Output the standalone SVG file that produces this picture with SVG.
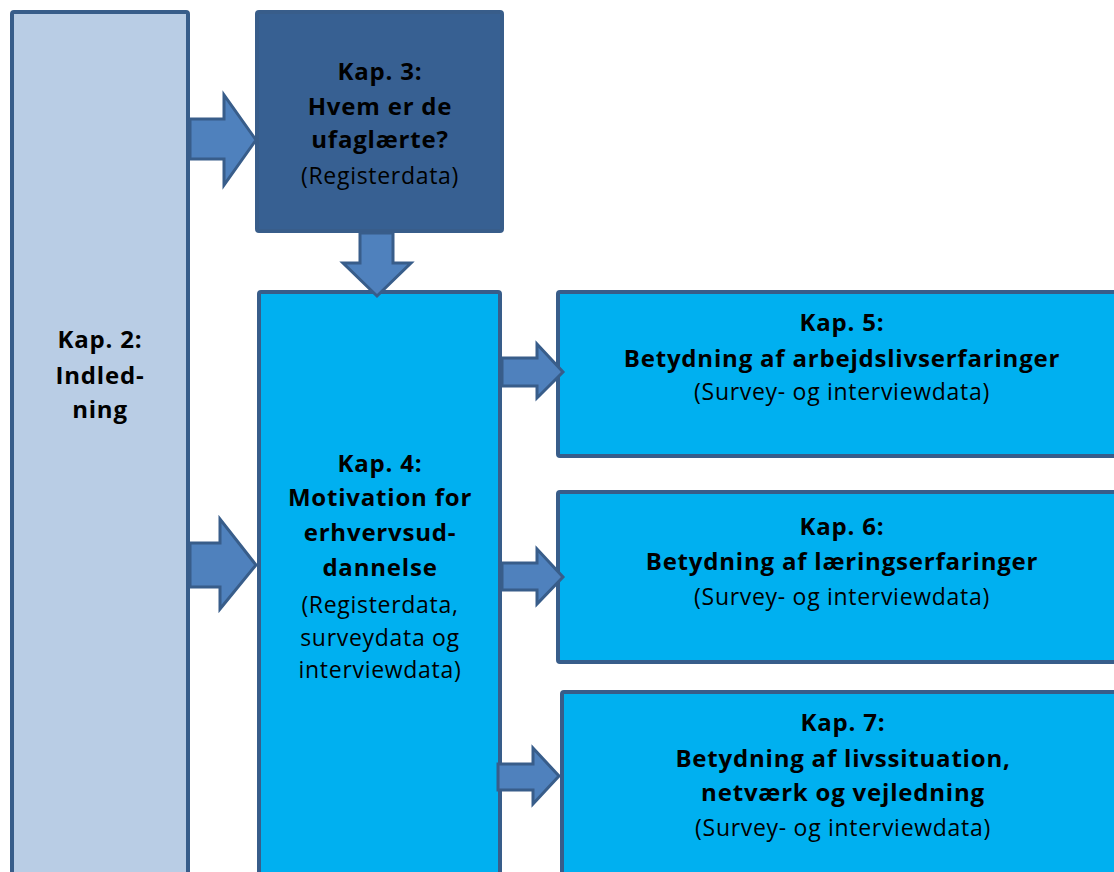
<svg xmlns="http://www.w3.org/2000/svg" width="1114" height="872" viewBox="0 0 1114 872">
<style>
.box{stroke:#385D8A;stroke-width:4}
.light{fill:#B9CDE5}
.dark{fill:#376092}
.cyan{fill:#00B0F0}
.arr{fill:#4F81BD;stroke:#385D8A;stroke-width:3;stroke-linejoin:miter}
text{font-family:"Open Sans","Noto Sans","Liberation Sans",sans-serif;fill:#000;text-anchor:middle}
.b{font-weight:bold;font-size:24px;letter-spacing:0.8px}
.r{font-size:23px;letter-spacing:0.7px}
</style>
<rect width="1114" height="872" fill="#fff"/>
<g id="kap2">
<rect class="box light" x="12" y="12" width="176" height="900" rx="2"/>
<text class="b" x="100" y="348">Kap. 2:</text>
<text class="b" x="100" y="384">Indled-</text>
<text class="b" x="100" y="418">ning</text>
</g>
<g id="kap3">
<rect class="box dark" x="257" y="12" width="245" height="219" rx="2"/>
<text class="b" x="380" y="80">Kap. 3:</text>
<text class="b" x="380" y="115">Hvem er de</text>
<text class="b" x="380" y="148">ufaglærte?</text>
<text class="r" x="380" y="184">(Registerdata)</text>
</g>
<g id="kap4">
<rect class="box cyan" x="259" y="292" width="241" height="620" rx="2"/>
<text class="b" x="380" y="472">Kap. 4:</text>
<text class="b" x="380" y="506">Motivation for</text>
<text class="b" x="380" y="541">erhvervsud-</text>
<text class="b" x="380" y="576">dannelse</text>
<text class="r" x="380" y="613">(Registerdata,</text>
<text class="r" x="380" y="646">surveydata og</text>
<text class="r" x="380" y="678">interviewdata)</text>
</g>
<g id="kap5">
<rect class="box cyan" x="558" y="292" width="580" height="164" rx="2"/>
<text class="b" x="842" y="331">Kap. 5:</text>
<text class="b" x="842" y="367">Betydning af arbejdslivserfaringer</text>
<text class="r" x="842" y="400">(Survey- og interviewdata)</text>
</g>
<g id="kap6">
<rect class="box cyan" x="558" y="492" width="580" height="170" rx="2"/>
<text class="b" x="842" y="535">Kap. 6:</text>
<text class="b" x="842" y="570">Betydning af læringserfaringer</text>
<text class="r" x="842" y="605">(Survey- og interviewdata)</text>
</g>
<g id="kap7">
<rect class="box cyan" x="562" y="692" width="580" height="220" rx="2"/>
<text class="b" x="843" y="731">Kap. 7:</text>
<text class="b" x="843" y="767">Betydning af livssituation,</text>
<text class="b" x="843" y="801">netværk og vejledning</text>
<text class="r" x="843" y="836">(Survey- og interviewdata)</text>
</g>
<g id="connectors">
<path class="arr" d="M190 119 H224 V95 L256 140 L224 185 V159 H190 Z"/>
<path class="arr" d="M360 233 V263 H343 L377 296 L411 263 H393 V233 Z"/>
<path class="arr" d="M190 543 H220 V519 L256 565 L220 609 V587 H190 Z"/>
<path class="arr" d="M502 358 H537 V344 L563 372 L537 398 V386 H502 Z"/>
<path class="arr" d="M502 563 H537 V549 L563 577 L537 604 V590 H502 Z"/>
<path class="arr" d="M498 764 H533 V748 L559 776 L533 804 V790 H498 Z"/>
</g>
</svg>
